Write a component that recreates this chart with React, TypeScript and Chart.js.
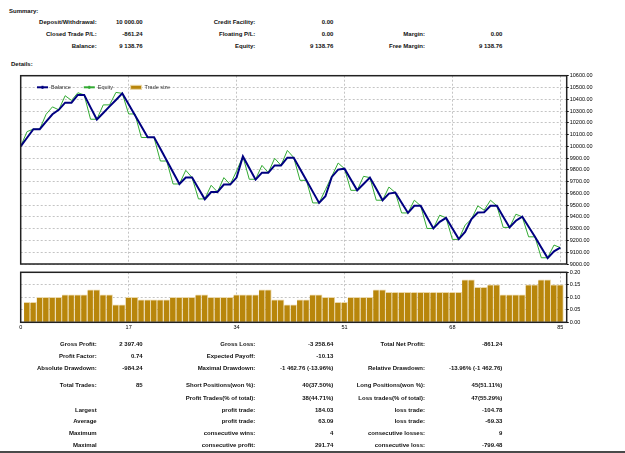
import React, { useEffect, useRef } from "react";
import { Chart, registerables } from "chart.js";

Chart.register(...registerables);

// ---------- data ----------
const BALANCE = [
  10000, 10073, 10146, 10146, 10210, 10272, 10310, 10371, 10371, 10437, 10437,
  10331, 10228, 10283, 10339, 10394, 10450,
  10357, 10264, 10171, 10078, 10078, 9980, 9880, 9780, 9680,
  9734, 9734, 9642, 9550, 9612, 9612, 9675, 9675, 9734, 9914,
  9815, 9717, 9776, 9776, 9838, 9838, 9903, 9903,
  9807, 9711, 9615, 9519, 9576, 9740, 9802, 9810,
  9718, 9626, 9680, 9734, 9640, 9542, 9598, 9607,
  9520, 9434, 9494, 9494, 9398, 9302, 9358, 9392, 9302, 9212,
  9273, 9381, 9437, 9440, 9494, 9494, 9402, 9311, 9368, 9403,
  9317, 9231, 9140, 9050, 9108, 9138.76,
];

const EQUITY = [
  10000, 10125, 10146, 10146, 10272, 10335, 10310, 10430, 10390, 10455, 10437,
  10230, 10230, 10352, 10352, 10458, 10450,
  10275, 10275, 10075, 10075, 10075, 9875, 9875, 9680, 9680,
  9796, 9734, 9553, 9553, 9669, 9612, 9734, 9675, 9790, 9914,
  9720, 9720, 9838, 9776, 9898, 9838, 9965, 9905,
  9711, 9711, 9519, 9519, 9632, 9745, 9858, 9810,
  9626, 9626, 9745, 9734, 9542, 9542, 9654, 9607,
  9434, 9434, 9542, 9494, 9302, 9302, 9415, 9392, 9209, 9209,
  9330, 9381, 9494, 9457, 9542, 9494, 9311, 9311, 9423, 9401,
  9231, 9231, 9053, 9053, 9161, 9138.76,
];

// trade size of trades 1..85
const TRADE_SIZE = [
  0.08, 0.08, 0.1, 0.1, 0.1, 0.1, 0.11, 0.11, 0.11, 0.11,
  0.13, 0.13, 0.11, 0.11, 0.07, 0.07, 0.1, 0.1, 0.09, 0.09,
  0.09, 0.09, 0.09, 0.1, 0.1, 0.1, 0.1, 0.11, 0.11, 0.1,
  0.1, 0.1, 0.1, 0.11, 0.11, 0.11, 0.11, 0.13, 0.13, 0.09,
  0.09, 0.07, 0.07, 0.09, 0.09, 0.11, 0.11, 0.1, 0.1, 0.08,
  0.08, 0.1, 0.1, 0.1, 0.1, 0.13, 0.13, 0.12, 0.12, 0.12,
  0.12, 0.12, 0.12, 0.12, 0.12, 0.12, 0.12, 0.12, 0.12, 0.17,
  0.17, 0.14, 0.14, 0.15, 0.15, 0.11, 0.11, 0.11, 0.11, 0.15,
  0.15, 0.17, 0.17, 0.15, 0.15,
];

const X_TICKS = [0, 17, 34, 51, 68, 85];
const Y_TICKS = [
  9000, 9100, 9200, 9300, 9400, 9500, 9600, 9700, 9800, 9900,
  10000, 10100, 10200, 10300, 10400, 10500, 10600,
];
const VOL_TICKS = [0, 0.05, 0.1, 0.15, 0.2];

const LEGEND_LABELS = ["Balance", "Equity", "Trade size"];

const SUMMARY_ROWS = [
  ["Deposit/Withdrawal:", "10 000.00", "Credit Facility:", "0.00", "", ""],
  ["Closed Trade P/L:", "-861.24", "Floating P/L:", "0.00", "Margin:", "0.00"],
  ["Balance:", "9 138.76", "Equity:", "9 138.76", "Free Margin:", "9 138.76"],
];

const DETAIL_ROWS = [
  ["Gross Profit:", "2 397.40", "Gross Loss:", "-3 258.64", "Total Net Profit:", "-861.24"],
  ["Profit Factor:", "0.74", "Expected Payoff:", "-10.13", "", ""],
  ["Absolute Drawdown:", "-984.24", "Maximal Drawdown:", "-1 462.76 (-13.96%)", "Relative Drawdown:", "-13.96% (-1 462.76)"],
  ["Total Trades:", "85", "Short Positions(won %):", "40(37.50%)", "Long Positions(won %):", "45(51.11%)"],
  ["", "", "Profit Trades(% of total):", "38(44.71%)", "Loss trades(% of total):", "47(55.29%)"],
  ["Largest", "", "profit trade:", "184.03", "loss trade:", "-104.78"],
  ["Average", "", "profit trade:", "63.09", "loss trade:", "-69.33"],
  ["Maximum", "", "consecutive wins:", "4", "consecutive losses:", "9"],
  ["Maximal", "", "consecutive profit:", "291.74", "consecutive loss:", "-799.48"],
];

// ---------- layout / style ----------
const W = 625;
const H = 453;
const FONT = '"Liberation Sans", Arial, sans-serif';
const NAVY = "#000080";
const GREEN = "#33aa33";
const GOLD = "#b8860b";
const GOLD_EDGE = "#ead7a8";
const GRID = "#c4c4c4";
const SUMMARY_Y = [22.3, 34, 45.7];
const DETAIL_Y = [344.3, 355.7, 367.7, 385, 397.7, 410, 421, 432.7, 445];
const COL_RIGHT = [96.7, 142.7, 255.3, 333.3, 425, 502.3];

const framePlugin = {
  id: "frame",
  afterDraw(chart: any) {
    const { ctx, chartArea: a } = chart;
    ctx.save();
    ctx.strokeStyle = "#222";
    ctx.lineWidth = 1.5;
    ctx.strokeRect(a.left, a.top, a.right - a.left, a.bottom - a.top);
    ctx.restore();
  },
};

const legendPlugin = {
  id: "miniLegend",
  afterDraw(chart: any, _args: any, opts: any) {
    const { ctx, chartArea } = chart;
    const y = chartArea.top + 11.6;
    const colors = [NAVY, GREEN, GOLD];
    LEGEND_LABELS.forEach((label, k) => {
      const x0 = chartArea.left + 16.3 + k * 46.8;
      ctx.save();
      if (k < 2) {
        ctx.strokeStyle = colors[k];
        ctx.lineWidth = 2;
        ctx.beginPath();
        ctx.moveTo(x0, y);
        ctx.lineTo(x0 + 11, y);
        ctx.stroke();
        ctx.fillStyle = colors[k];
        ctx.fillRect(x0 + 4.5, y - 1.5, 2, 3);
      } else {
        ctx.fillStyle = colors[k];
        ctx.fillRect(x0, y - 2, 11, 4);
        ctx.strokeStyle = GOLD_EDGE;
        ctx.lineWidth = 1;
        ctx.strokeRect(x0, y - 2, 11, 4);
      }
      ctx.fillStyle = "#333";
      ctx.font = `5.5px ${FONT}`;
      ctx.textBaseline = "middle";
      ctx.textAlign = "left";
      ctx.fillText(label, x0 + 14, y);
      ctx.restore();
    });
  },
};

const tickFont = { family: FONT, size: 5.5 };

function MainChart() {
  const ref = useRef<HTMLCanvasElement>(null);
  useEffect(() => {
    const chart = new Chart(ref.current as HTMLCanvasElement, {
      type: "line",
      data: {
        datasets: [
          {
            label: "Balance",
            data: BALANCE.map((v, i) => ({ x: i, y: v })),
            borderColor: NAVY,
            borderWidth: 2,
            pointRadius: 0,
            tension: 0,
          },
          {
            label: "Equity",
            data: EQUITY.map((v, i) => ({ x: i, y: v })),
            borderColor: GREEN,
            borderWidth: 1,
            pointRadius: 0,
            tension: 0,
          },
        ],
      },
      options: {
        animation: false,
        responsive: false,
        devicePixelRatio: 1,
        layout: { padding: { left: 20.7, top: 5.7, right: 0, bottom: 6 } },
        plugins: { legend: { display: false }, tooltip: { enabled: false } },
        scales: {
          x: {
            type: "linear",
            min: 0,
            max: 86,
            afterBuildTicks: (ax: any) => {
              ax.ticks = X_TICKS.map((v) => ({ value: v }));
            },
            ticks: { display: false },
            grid: { color: GRID, drawTicks: false },
            border: { display: false, dash: [2, 2] },
            afterFit: (ax: any) => {
              ax.height = 0;
            },
          },
          y: {
            type: "linear",
            position: "right",
            min: 9000,
            max: 10600,
            afterBuildTicks: (ax: any) => {
              ax.ticks = Y_TICKS.map((v) => ({ value: v }));
            },
            ticks: {
              font: tickFont,
              color: "#000",
              padding: 1,
              callback: (v: any) => Number(v).toFixed(2),
            },
            grid: { color: GRID, tickColor: "#000", tickLength: 2 },
            border: { display: false, dash: [2, 2] },
            afterFit: (ax: any) => {
              ax.width = 58.3;
            },
          },
        },
      } as any,
      plugins: [framePlugin, legendPlugin],
    });
    return () => chart.destroy();
  }, []);
  return (
    <canvas
      ref={ref}
      width={W}
      height={200}
      style={{ position: "absolute", left: 0, top: 70, width: W, height: 200 }}
    />
  );
}

function VolumeChart() {
  const ref = useRef<HTMLCanvasElement>(null);
  useEffect(() => {
    const chart = new Chart(ref.current as HTMLCanvasElement, {
      type: "bar",
      data: {
        datasets: [
          {
            label: "Trade size",
            data: TRADE_SIZE.map((v, k) => ({ x: k + 1, y: v })),
            backgroundColor: GOLD,
            borderColor: GOLD_EDGE,
            borderWidth: { top: 1, right: 1, left: 0, bottom: 0 },
            borderSkipped: false,
            barThickness: 6,
          },
        ],
      },
      options: {
        animation: false,
        responsive: false,
        devicePixelRatio: 1,
        layout: { padding: { left: 20.7, top: 6.3, right: 0, bottom: 0 } },
        plugins: { legend: { display: false }, tooltip: { enabled: false } },
        scales: {
          x: {
            type: "linear",
            min: 0,
            max: 86,
            offset: false,
            afterBuildTicks: (ax: any) => {
              ax.ticks = X_TICKS.map((v) => ({ value: v }));
            },
            ticks: {
              font: tickFont,
              color: "#000",
              padding: 2,
              autoSkip: false,
              maxRotation: 0,
              callback: (v: any) => String(v),
            },
            grid: { offset: false, color: GRID, drawTicks: false },
            border: { display: false, dash: [2, 2] },
            afterFit: (ax: any) => {
              ax.height = 13.7;
            },
          },
          y: {
            type: "linear",
            position: "right",
            min: 0,
            max: 0.2,
            afterBuildTicks: (ax: any) => {
              ax.ticks = VOL_TICKS.map((v) => ({ value: v }));
            },
            ticks: {
              font: tickFont,
              color: "#000",
              padding: 1,
              callback: (v: any) => Number(v).toFixed(2),
            },
            grid: { color: GRID, tickColor: "#000", tickLength: 2 },
            border: { display: false, dash: [2, 2] },
            afterFit: (ax: any) => {
              ax.width = 58.3;
            },
          },
        },
      } as any,
      plugins: [framePlugin],
    });
    return () => chart.destroy();
  }, []);
  return (
    <canvas
      ref={ref}
      width={W}
      height={70}
      style={{ position: "absolute", left: 0, top: 266, width: W, height: 70 }}
    />
  );
}

const textBase: React.CSSProperties = {
  position: "absolute",
  fontFamily: FONT,
  fontWeight: "bold",
  fontSize: "6px",
  lineHeight: "8px",
  height: "8px",
  whiteSpace: "nowrap",
  color: "#111",
};

function Rows({ rows, ys }: { rows: string[][]; ys: number[] }) {
  return (
    <>
      {rows.map((row, r) =>
        row.map((cell, c) =>
          cell ? (
            <div
              key={`${r}-${c}`}
              style={{ ...textBase, top: ys[r] - 4, right: W - COL_RIGHT[c], textAlign: "right" }}
            >
              {cell}
            </div>
          ) : null
        )
      )}
    </>
  );
}

export default function App() {
  return (
    <div
      style={{
        position: "absolute",
        left: 0,
        top: 0,
        width: W,
        height: H,
        background: "#fff",
        overflow: "hidden",
      }}
    >
      <div style={{ ...textBase, left: 9, top: 10.7 - 4 }}>Summary:</div>
      <Rows rows={SUMMARY_ROWS} ys={SUMMARY_Y} />
      <div style={{ ...textBase, left: 11, top: 64 - 4 }}>Details:</div>
      <MainChart />
      <VolumeChart />
      <Rows rows={DETAIL_ROWS} ys={DETAIL_Y} />
      <div style={{ position: "absolute", left: 0, top: 451, width: W, height: 2, background: "#4a4a4a" }} />
    </div>
  );
}
